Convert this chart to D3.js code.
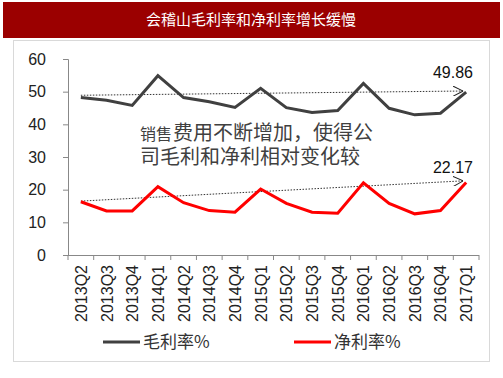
<!DOCTYPE html>
<html>
<head>
<meta charset="utf-8">
<script src="https://cdn.jsdelivr.net/npm/d3@7"></script>
<style>
  body { margin: 0; background: #fff; }
  svg text { font-family: "Liberation Sans", "Noto Sans CJK SC", sans-serif; }
</style>
</head>
<body>
<div id="chart"></div>
<script>
// quarters and margins
const quarters = ["2013Q2", "2013Q3", "2013Q4", "2014Q1", "2014Q2", "2014Q3", "2014Q4", "2015Q1",
  "2015Q2", "2015Q3", "2015Q4", "2016Q1", "2016Q2", "2016Q3", "2016Q4", "2017Q1"];
const grossMargin = [48.2, 47.4, 45.8, 54.9, 48.2, 46.9, 45.2, 51.0, 45.1, 43.6, 44.2, 52.5, 44.9, 42.9, 43.4, 49.86];
const netMargin = [16.3, 13.5, 13.5, 20.9, 16.0, 13.6, 13.1, 20.2, 15.8, 13.1, 12.8, 22.1, 15.8, 12.6, 13.6, 22.17];
const grossTrend = [48.9, 50.2];
const netTrend = [16.5, 22.7];
const yTicks = [0, 10, 20, 30, 40, 50, 60];
const seriesNames = ["毛利率%", "净利率%"];

const width = 503, height = 378;
const svg = d3.select("#chart").append("svg")
  .attr("width", width)
  .attr("height", height);

// title bar
svg.append("rect")
  .attr("x", 3).attr("y", 2).attr("width", 497).attr("height", 36)
  .attr("fill", "#9b0000");
svg.append("text")
  .attr("x", 251).attr("y", 25)
  .attr("text-anchor", "middle")
  .style("font-family", "'Noto Sans CJK SC'")
  .style("font-size", "15px")
  .attr("fill", "#fff")
  .text("会稽山毛利率和净利率增长缓慢");

// chart frame
svg.append("rect")
  .attr("x", 13.5).attr("y", 40.5).attr("width", 476).attr("height", 321)
  .attr("fill", "none")
  .attr("stroke", "#d9d9d9");

const x = d3.scaleBand().domain(quarters).range([68, 479]);
const y = d3.scaleLinear().domain([0, 60]).range([255, 59]);
const cx = d => x(d) + x.bandwidth() / 2;

// y axis
const yAxis = svg.append("g")
  .attr("transform", "translate(68,0)")
  .call(d3.axisLeft(y).tickValues(yTicks).tickSize(5).tickPadding(17));
yAxis.select(".domain").attr("stroke", "#888");
yAxis.selectAll(".tick line").attr("stroke", "#888");
yAxis.selectAll(".tick text")
  .style("font-size", "16px")
  .attr("fill", "#222");

// x axis, ticks between categories
svg.append("line")
  .attr("x1", 68).attr("x2", 479).attr("y1", 255.5).attr("y2", 255.5)
  .attr("stroke", "#888");
svg.selectAll("xtick")
  .data(quarters.concat([null]))
  .join("line")
  .attr("x1", (d, i) => i < quarters.length ? x(d) : x.range()[1])
  .attr("x2", (d, i) => i < quarters.length ? x(d) : x.range()[1])
  .attr("y1", 255).attr("y2", 260)
  .attr("stroke", "#888");
svg.selectAll("xlabel")
  .data(quarters)
  .join("text")
  .attr("transform", d => `translate(${cx(d) + 6},265) rotate(-90)`)
  .attr("text-anchor", "end")
  .style("font-size", "16px")
  .attr("fill", "#222")
  .text(d => d);

// arrow marker for trend lines
svg.append("defs").append("marker")
  .attr("id", "arrow")
  .attr("viewBox", "0 0 10 10")
  .attr("refX", 10).attr("refY", 5)
  .attr("markerWidth", 10).attr("markerHeight", 10)
  .attr("markerUnits", "userSpaceOnUse")
  .attr("orient", "auto")
  .append("path")
  .attr("d", "M0,0 L10,5 L0,10")
  .attr("fill", "none")
  .attr("stroke", "#222")
  .attr("stroke-width", 1);

const trendX = [cx(quarters[0]), cx(quarters[quarters.length - 1]) - 3];
[grossTrend, netTrend].forEach(t => {
  svg.append("line")
    .attr("x1", trendX[0]).attr("y1", y(t[0]))
    .attr("x2", trendX[1]).attr("y2", y(t[1]))
    .attr("stroke", "#333")
    .attr("stroke-width", 1)
    .attr("stroke-dasharray", "1.5,1.5")
    .attr("marker-end", "url(#arrow)");
});

// lines
const line = d3.line()
  .x((d, i) => cx(quarters[i]))
  .y(d => y(d));
svg.append("path")
  .attr("d", line(grossMargin))
  .attr("fill", "none")
  .attr("stroke", "#404040")
  .attr("stroke-width", 3);
svg.append("path")
  .attr("d", line(netMargin))
  .attr("fill", "none")
  .attr("stroke", "#ff0000")
  .attr("stroke-width", 3);

// end value labels
const last = quarters.length - 1;
svg.append("text")
  .attr("x", 453).attr("y", y(grossMargin[last]) - 14)
  .attr("text-anchor", "middle")
  .style("font-size", "16px")
  .attr("fill", "#111")
  .text(grossMargin[last].toFixed(2));
svg.append("text")
  .attr("x", 453).attr("y", y(netMargin[last]) - 10)
  .attr("text-anchor", "middle")
  .style("font-size", "16px")
  .attr("fill", "#111")
  .text(netMargin[last].toFixed(2));

// annotation, first two characters a little smaller as in the source
svg.append("text")
  .attr("x", 140).attr("y", 140)
  .style("font-family", "'Noto Sans CJK SC'")
  .style("font-size", "16px")
  .attr("fill", "#404040")
  .text("销售");
svg.append("text")
  .attr("x", 173).attr("y", 140)
  .style("font-family", "'Noto Sans CJK SC'")
  .style("font-size", "20px")
  .attr("fill", "#404040")
  .text("费用不断增加，使得公");
svg.append("text")
  .attr("x", 140).attr("y", 164)
  .style("font-family", "'Noto Sans CJK SC'")
  .style("font-size", "20px")
  .attr("fill", "#404040")
  .text("司毛利和净利相对变化较");

// legend
const legend = svg.selectAll("legend")
  .data(seriesNames)
  .join("g")
  .attr("transform", (d, i) => `translate(${i === 0 ? 103 : 294},342)`);
legend.append("line")
  .attr("x1", 0).attr("x2", 37)
  .attr("stroke", (d, i) => i === 0 ? "#404040" : "#ff0000")
  .attr("stroke-width", 3);
legend.append("text")
  .attr("x", 40).attr("y", 6)
  .style("font-family", "'Noto Sans CJK SC'")
  .style("font-size", "17px")
  .attr("fill", "#333")
  .text(d => d);
</script>
</body>
</html>
